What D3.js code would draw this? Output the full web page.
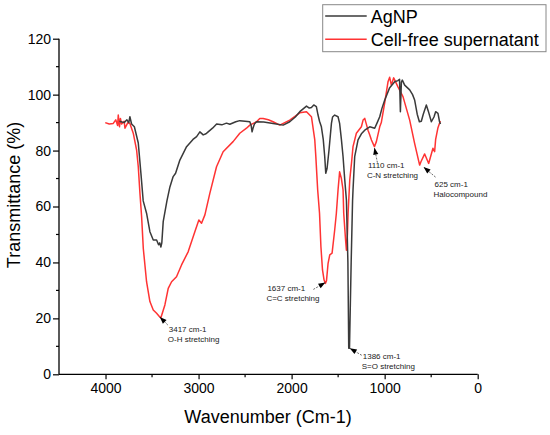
<!DOCTYPE html>
<html>
<head>
<meta charset="utf-8">
<script src="https://cdn.jsdelivr.net/npm/d3@7"></script>
<style>
  body { margin: 0; background: #fff; }
  text { font-family: "Liberation Sans", Arial, sans-serif; }
</style>
</head>
<body>
<div id="chart"></div>
<script>
// AgNP spectrum (wavenumber, transmittance)
var agnpWave = [3850, 3800, 3770, 3750, 3738, 3720, 3690, 3648, 3620, 3595, 3559, 3523, 3487, 3451,
  3430, 3417, 3405, 3395, 3380, 3340, 3308, 3273, 3247, 3201, 3129, 3060, 3021, 2986, 2950, 2920,
  2897, 2850, 2806, 2750, 2700, 2664, 2600, 2557, 2500, 2449, 2435, 2425, 2415, 2400, 2377, 2300,
  2199, 2091, 2020, 1960, 1912, 1840, 1810, 1787, 1762, 1734, 1716, 1700, 1680, 1660, 1644, 1633,
  1619, 1598, 1585, 1572, 1560, 1537, 1501, 1484, 1465, 1447, 1430, 1411, 1395, 1386, 1378, 1360,
  1345, 1340, 1322, 1286, 1250, 1214, 1160, 1107, 1080, 1053, 1030, 1000, 946, 892, 857, 840, 831,
  825, 820, 810, 785, 731, 700, 678, 650, 627, 606, 585, 552, 530, 498, 470, 452, 427, 410, 400];
var agnpT = [90.5, 90, 91, 90, 92.1, 89.5, 88.5, 82.7, 72, 62, 57.6, 51, 48, 48,
  46.3, 47, 45.5, 47, 54.6, 62, 67, 70.7, 71.9, 76.6, 81.4, 84, 85, 86.7, 85.6, 86,
  86.7, 88, 89.5, 89.2, 89.8, 89.4, 90.3, 90.7, 90.5, 90.3, 89, 86.7, 88, 89.5, 90.3, 90.2,
  89.7, 89.1, 90.3, 92, 93.9, 95.9, 95.2, 95.4, 96.3, 95.7, 92.7, 90.5, 88.5, 84, 77.8, 71.9,
  73.6, 80.2, 85, 89.7, 92, 92.7, 92.1, 89.7, 84, 77.8, 70, 62.3, 40, 9.3, 9.3, 40,
  62, 65.9, 77.8, 83.8, 86, 87.3, 88.5, 88, 90, 92.1, 95, 98, 102.5, 104.6, 105, 105.5, 93.9,
  100, 104.5, 105.2, 103.4, 101.7, 100, 98.1, 93, 90.3, 90.5, 93, 96.3, 94, 90.3, 92, 93.9, 93.3, 90.3, 89.5];

// Cell-free supernatant spectrum
var cfsWave = [4003, 3960, 3917, 3890, 3870, 3863, 3850, 3840, 3827, 3800, 3791, 3760, 3738, 3702,
  3666, 3648, 3630, 3612, 3594, 3559, 3523, 3487, 3451, 3417, 3405, 3362, 3326, 3290, 3237, 3183,
  3112, 3040, 2997, 2968, 2932, 2879, 2807, 2736, 2629, 2557, 2485, 2449, 2377, 2342, 2306, 2250,
  2199, 2127, 2020, 1912, 1840, 1787, 1751, 1740, 1720, 1700, 1685, 1668, 1651, 1637, 1625, 1608,
  1590, 1565, 1537, 1519, 1501, 1484, 1465, 1447, 1440, 1420, 1411, 1400, 1393, 1375, 1355, 1340,
  1304, 1250, 1232, 1214, 1179, 1160, 1142, 1110, 1089, 1053, 1036, 1000, 964, 946, 928, 903, 857,
  803, 731, 678, 624, 610, 570, 527, 481, 463, 452, 427, 402];
var cfsT = [90, 89.5, 89.7, 91, 89, 92.7, 88.5, 91.5, 89.5, 90.5, 88, 90, 89.7, 86.2,
  80.2, 74.2, 64.7, 56.3, 45, 33.1, 26, 23, 21.8, 20.5, 20.2, 24.8, 30.7, 33.1, 34.9, 39.1,
  43.8, 51, 55.2, 54, 57, 64.7, 74.2, 79.6, 83.2, 86.2, 88, 89.1, 90.3, 91.5, 91.5, 91,
  90.3, 89.1, 90.9, 93.5, 93.9, 92.1, 83.8, 78, 66, 57.6, 45.6, 37.3, 33.7, 32.5, 33.5, 39.7,
  42.7, 43.3, 51.6, 57.6, 65.9, 72.4, 70, 65.9, 57.6, 48, 44.4, 50, 57.6, 69.5, 76, 81.4,
  86.2, 88.5, 90.9, 91.5, 87.3, 85.6, 83.8, 81.4, 83.2, 88.5, 90, 97, 104.6, 106.2, 103.4, 106, 102.8,
  99.3, 90.9, 82.6, 74.8, 76, 78.8, 75.4, 80.8, 79.6, 84, 88.2, 90.6];

var seriesNames = ["AgNP", "Cell-free supernatant"];
var seriesColors = ["#3a3a3a", "#ff3333"];

var xTicks = [4000, 3000, 2000, 1000, 0];
var xMinor = [3500, 2500, 1500, 500];
var yTicks = [0, 20, 40, 60, 80, 100, 120];
var yMinor = [10, 30, 50, 70, 90, 110];

// peak annotations
var peakWave = [3417, 1637, 1386, 1110, 625];
var peakT = [20.5, 32.5, 9.3, 81.4, 74.8];
var peakLine1 = ["3417 cm-1", "1637 cm-1", "1386 cm-1", "1110 cm-1", "625 cm-1"];
var peakLine2 = ["O-H stretching", "C=C stretching", "S=O stretching", "C-N stretching", "Halocompound"];
// layout offsets for each annotation: tip shift, tail, text
var peakLayout = [
  { tx: 0, ty: 0, lx: 8, ly: 8, x: 9, y: 15 },
  { tx: 0, ty: -1, lx: -12, ly: 7, x: -58, y: 9 },
  { tx: 1, ty: 0, lx: 12, ly: 7, x: 13, y: 11 },
  { tx: 0, ty: 1, lx: 3, ly: 15, x: -6.5, y: 20.5 },
  { tx: 4, ty: 2, lx: 12, ly: 10, x: 11, y: 19.5 }
];

var svgWidth = 550;
var svgHeight = 435;
var margin = { top: 38.7, right: 72.3, bottom: 60.7, left: 59 };
var width = svgWidth - margin.left - margin.right;
var height = svgHeight - margin.top - margin.bottom;

var svg = d3.select("#chart")
  .append("svg")
  .attr("width", svgWidth)
  .attr("height", svgHeight);

var chartGroup = svg.append("g")
  .attr("transform", `translate(${margin.left}, ${margin.top})`);

var xScale = d3.scaleLinear().domain([4500, 0]).range([0, width]);
var yScale = d3.scaleLinear().domain([0, 120]).range([height, 0]);

// axes
var bottomAxis = d3.axisBottom(xScale).tickValues(xTicks).tickSize(5).tickPadding(4).tickFormat(d3.format("d"));
var leftAxis = d3.axisLeft(yScale).tickValues(yTicks).tickSize(6).tickPadding(2);

var xAxis = chartGroup.append("g")
  .attr("transform", `translate(0, ${height})`)
  .call(bottomAxis);
xAxis.selectAll(".tick")
  .data(xMinor, function(d) { return d; });
xAxis.selectAll(".minor")
  .data(xMinor)
  .enter()
  .append("line")
  .attr("x1", d => xScale(d))
  .attr("x2", d => xScale(d))
  .attr("y1", 0)
  .attr("y2", 3)
  .attr("stroke", "#000");

var yAxis = chartGroup.append("g").call(leftAxis);
yAxis.selectAll(".minor")
  .data(yMinor)
  .enter()
  .append("line")
  .attr("x1", -3)
  .attr("x2", 0)
  .attr("y1", d => yScale(d))
  .attr("y2", d => yScale(d))
  .attr("stroke", "#000");

[xAxis, yAxis].forEach(function(ax) {
  ax.select(".domain").attr("d", null);
  ax.selectAll("text").style("font-size", "14px").attr("fill", "#000");
  ax.selectAll("line").attr("stroke", "#000").attr("stroke-width", 1.2);
});
xAxis.select(".domain").remove();
yAxis.select(".domain").remove();
chartGroup.append("line")
  .attr("x1", 0).attr("x2", width)
  .attr("y1", height).attr("y2", height)
  .attr("stroke", "#000").attr("stroke-width", 1.3);
chartGroup.append("line")
  .attr("x1", 0).attr("x2", 0)
  .attr("y1", 0).attr("y2", height)
  .attr("stroke", "#000").attr("stroke-width", 1.3);

// axis titles
chartGroup.append("text")
  .attr("transform", "rotate(-90)")
  .attr("x", 0 - (195 - margin.top))
  .attr("y", 20 - margin.left)
  .attr("text-anchor", "middle")
  .style("font-size", "18px")
  .text("Transmittance (%)");

chartGroup.append("text")
  .attr("x", 268 - margin.left)
  .attr("y", 423 - margin.top)
  .attr("text-anchor", "middle")
  .style("font-size", "18px")
  .text("Wavenumber (Cm-1)");

// spectra
var line = d3.line()
  .x(d => xScale(d[0]))
  .y(d => yScale(d[1]));

var spectra = [d3.zip(agnpWave, agnpT), d3.zip(cfsWave, cfsT)];

// red first so black sits on top where they overlap
chartGroup.selectAll(".spectrum")
  .data([1, 0])
  .enter()
  .append("path")
  .attr("class", "spectrum")
  .attr("d", i => line(spectra[i]))
  .attr("fill", "none")
  .attr("stroke", i => seriesColors[i])
  .attr("stroke-width", 1.5)
  .attr("stroke-linejoin", "round");

// annotations
var peaks = peakWave.map(function(w, i) {
  return { w: w, t: peakT[i], a: peakLine1[i], b: peakLine2[i], o: peakLayout[i] };
});

var annot = chartGroup.selectAll(".peak")
  .data(peaks)
  .enter()
  .append("g")
  .attr("class", "peak")
  .attr("transform", d => `translate(${xScale(d.w) + d.o.tx}, ${yScale(d.t) + d.o.ty})`);

annot.append("line")
  .attr("x1", d => d.o.lx)
  .attr("y1", d => d.o.ly)
  .attr("x2", 0)
  .attr("y2", 0)
  .attr("stroke", "#444")
  .attr("stroke-width", 0.8)
  .attr("stroke-dasharray", "2,1.2");

annot.append("path")
  .attr("d", "M0,0 L-7,-2.6 L-7,2.6 Z")
  .attr("fill", "#000")
  .attr("transform", function(d) {
    var ang = Math.atan2(-d.o.ly, -d.o.lx) * 180 / Math.PI;
    return `rotate(${ang})`;
  });

annot.append("text")
  .attr("x", d => d.o.x)
  .attr("y", d => d.o.y)
  .style("font-size", "8px")
  .attr("fill", "#222")
  .text(d => d.a);

annot.append("text")
  .attr("x", d => d.o.x - 1)
  .attr("y", d => d.o.y + 10)
  .style("font-size", "8px")
  .attr("fill", "#222")
  .text(d => d.b);

// legend
var legend = svg.append("g").attr("transform", "translate(322.7, 4.7)");
legend.append("rect")
  .attr("width", 223.3)
  .attr("height", 47)
  .attr("fill", "#fff")
  .attr("stroke", "#888")
  .attr("stroke-width", 1);

var legendItems = legend.selectAll(".item")
  .data(seriesNames)
  .enter()
  .append("g")
  .attr("class", "item")
  .attr("transform", (d, i) => `translate(0, ${11.3 + i * 23.3})`);

legendItems.append("line")
  .attr("x1", 2.5)
  .attr("x2", 44)
  .attr("stroke", (d, i) => seriesColors[i])
  .attr("stroke-width", 1.5);

legendItems.append("text")
  .attr("x", 48)
  .attr("y", 6.6)
  .style("font-size", "18px")
  .attr("fill", "#000")
  .text(d => d);
</script>
</body>
</html>
